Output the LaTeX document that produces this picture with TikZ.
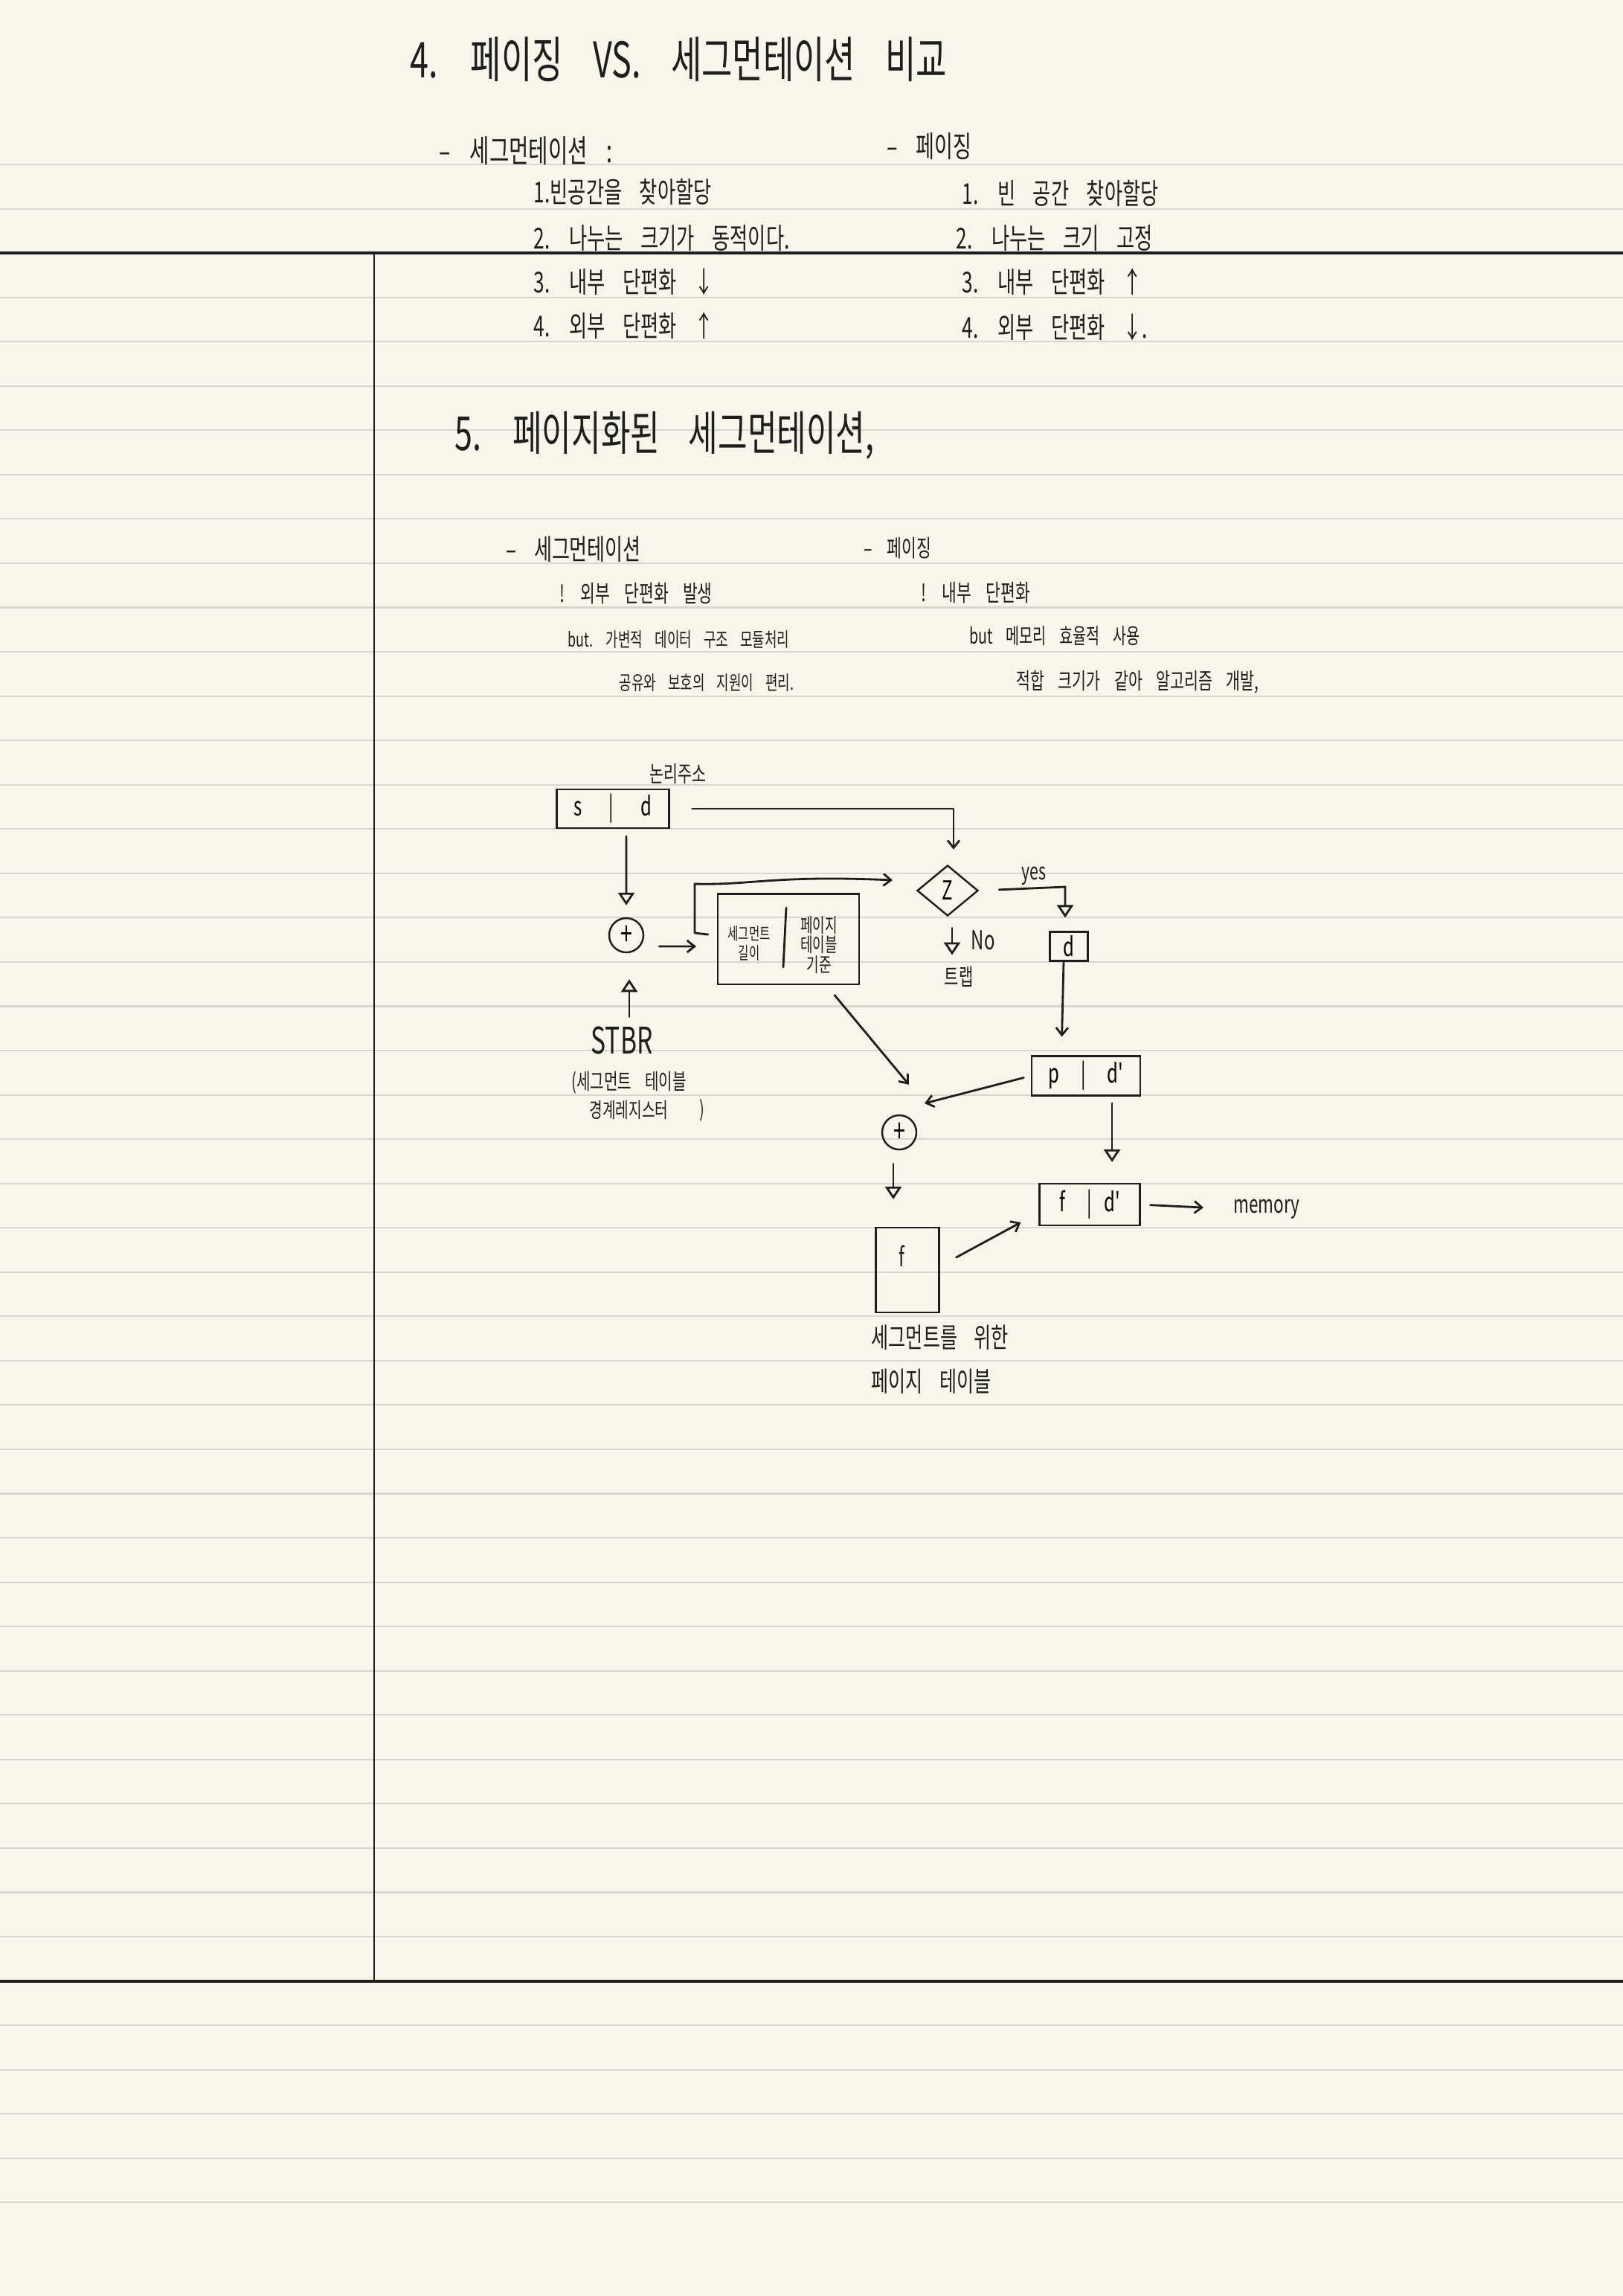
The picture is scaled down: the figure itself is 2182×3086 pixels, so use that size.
\documentclass[tikz,border=0pt]{standalone}
\usepackage{fontspec}
\usepackage{tikz}
\usetikzlibrary{arrows.meta, shapes.geometric}
\newfontfamily\hand[FakeStretch=0.68,WordSpace=4]{Noto Sans CJK KR}
\newcommand\hsz[1]{\hand\fontsize{#1}{#1}\selectfont}
\definecolor{paper}{RGB}{248,246,234}
\definecolor{ruleline}{RGB}{214,213,207}
\definecolor{ink}{RGB}{30,30,30}

\begin{document}
\begin{tikzpicture}[x=0.01cm, y=-0.01cm,
    pen/.style={line width=0.8pt, ink, line cap=round, line join=round},
    tovee/.style={-{Straight Barb[length=1mm,width=1.6mm]}},
    totri/.style={-{Triangle[open,length=1.7mm,width=2.2mm]}},
    txt/.style={anchor=west, inner sep=0pt, text=ink},
    lbl/.style={inner sep=0pt, text=ink},
    box/.style={draw=ink, line width=0.6pt, inner sep=0pt},
    sum/.style={draw=ink, line width=0.7pt, circle, minimum size=4.6mm,
                inner sep=0pt, font=\hsz{12}}]
  \useasboundingbox (0,0) rectangle (2182,3086);
  \fill[paper] (0,0) rectangle (2182,3086);
  % note paper
  \foreach \k in {0,...,46}
    \draw[ruleline, line width=0.6pt] (0,{221+59.55*\k}) -- (2182,{221+59.55*\k});
  \draw[ink, line width=0.9pt] (0,340) -- (2182,340);
  \draw[ink, line width=0.9pt] (0,2663) -- (2182,2663);
  \draw[ink, line width=0.7pt] (503,340) -- (503,2663);

  % 4.
  \node[txt, font=\hsz{18.8}] (t4) at (551,80) {4. 페이징 VS. 세그먼테이션 비교};
  \node[txt, font=\hsz{12}] (segh) at (590,203) {– 세그먼테이션 :};
  \node[txt, font=\hsz{11}] (seg1) at (717,258) {1.빈공간을 찾아할당};
  \node[txt, font=\hsz{11}] (seg2) at (717,320) {2. 나누는 크기가 동적이다.};
  \node[txt, font=\hsz{11}] (seg3) at (717,379) {3. 내부 단편화 ↓};
  \node[txt, font=\hsz{11}] (seg4) at (717,438) {4. 외부 단편화 ↑};
  \node[txt, font=\hsz{11.3}] (pagh) at (1192,197) {– 페이징};
  \node[txt, font=\hsz{11}] (pag1) at (1293,260) {1. 빈 공간 찾아할당};
  \node[txt, font=\hsz{11}] (pag2) at (1285,320) {2. 나누는 크기 고정};
  \node[txt, font=\hsz{11}] (pag3) at (1293,379) {3. 내부 단편화 ↑};
  \node[txt, font=\hsz{11}] (pag4) at (1293,440) {4. 외부 단편화 ↓.};

  % 5.
  \node[txt, font=\hsz{18}] (t5) at (611,585) {5. 페이지화된 세그먼테이션,};
  \node[txt, font=\hsz{10.9}] (segh5) at (680,738) {– 세그먼테이션};
  \node[txt, font=\hsz{9}] (seg5a) at (752,798) {! 외부 단편화 발생};
  \node[txt, font=\hsz{7.5}] (seg5b) at (763,860) {but. 가변적 데이터 구조 모듈처리};
  \node[txt, font=\hsz{7.5}] (seg5c) at (832,918) {공유와 보호의 지원이 편리.};
  \node[txt, font=\hsz{9}] (pagh5) at (1161,737) {– 페이징};
  \node[txt, font=\hsz{9}] (pag5a) at (1238,797) {! 내부 단편화};
  \node[txt, font=\hsz{8.2}] (pag5b) at (1303,855) {but 메모리 효율적 사용};
  \node[txt, font=\hsz{8.6}] (pag5c) at (1366,917) {적합 크기가 같아 알고리즘 개발,};

  % diagram
  \node[txt, font=\hsz{8.6}] (lad) at (873,1040) {논리주소};
  \node[box, minimum width=15.1mm, minimum height=5.2mm, font=\hsz{10}]
    (sd) at (824,1087) {s\hspace{3.6mm}|\hspace{3.6mm}d};
  \node[box, minimum width=19mm, minimum height=12.1mm] (seg) at (1060,1262) {};
  \node[lbl, align=center, font=\hsz{6.5}] (seglen) at (1007,1268) {세그먼트\\[1pt]길이};
  \node[lbl, align=center, font=\hsz{7.5}] (segpt) at (1101,1270) {페이지\\테이블\\기준};
  \draw[pen] (1057,1220) -- (1053,1300);
  \node[draw=ink, line width=0.7pt, diamond, minimum width=8.2mm, minimum height=6.8mm,
        inner sep=0pt, font=\hsz{10}] (zc) at (1274,1197) {Z};
  \node[box, minimum width=5.1mm, minimum height=3.9mm, font=\hsz{10}] (db) at (1437,1272) {d};
  \node[box, minimum width=14.6mm, minimum height=5.3mm, font=\hsz{10}]
    (pd) at (1460,1446) {p\hspace{2.9mm}|\hspace{2.9mm}d'};
  \node[box, minimum width=13.5mm, minimum height=5.6mm, font=\hsz{10}]
    (fd) at (1465,1619) {f\hspace{3mm}|\hspace{1.6mm}d'};
  \node[box, minimum width=8.5mm, minimum height=11.4mm] (fb) at (1220,1707) {};
  \node[lbl, font=\hsz{10}] (fbf) at (1212,1688) {f};
  \node[sum] (p1) at (842,1257) {+};
  \node[sum] (p2) at (1209,1522) {+};
  \node[lbl, font=\hsz{14}] (stbr) at (836,1398) {STBR};
  \node[txt, font=\hsz{8.4}] (stbr1) at (768,1455) {(세그먼트 테이블};
  \node[txt, font=\hsz{8}] (stbr2) at (792,1492) {경계레지스터};
  \node[txt, font=\hsz{8.4}] (stbr3) at (940,1492) {)};
  \node[lbl, font=\hsz{8.9}] (yes) at (1390,1177) {yes};
  \node[txt, font=\hsz{10}] (no) at (1305,1264) {No};
  \node[lbl, font=\hsz{8.8}] (trap) at (1289,1313) {트랩};
  \node[txt, font=\hsz{9.4}] (mem) at (1658,1625) {memory};
  \node[txt, font=\hsz{10.5}] (pt1) at (1171,1798) {세그먼트를 위한};
  \node[txt, font=\hsz{10.5}] (pt2) at (1171,1857) {페이지 테이블};

  \coordinate (brk) at (934,1254);
  \coordinate (brktop) at (934,1188);
  \coordinate (zin) at (1200,1183);
  \coordinate (bin) at (936,1272);
  \coordinate (ycorner) at (1432,1192);
  \coordinate (p2in) at (1243,1483);

  \draw[pen, tovee, shorten <=3mm, shorten >=2mm] (sd.east) -| ([xshift=0.8mm]zc.north);
  \draw[pen, totri, shorten <=1mm, shorten >=1.6mm] ([xshift=1.8mm]sd.south) -- (p1.north);
  \draw[pen, totri, shorten <=1.2mm, shorten >=3.5mm]
    ([xshift=0.4mm]p1.south |- stbr.north) -- ([xshift=0.4mm]p1.south);
  \draw[pen, tovee, shorten <=2mm] ([yshift=-1.5mm]p1.east) -- (bin);
  \draw[pen, tovee] ([xshift=-1.2mm,yshift=0.6mm]seg.west) -- (brk) -- (brktop)
    .. controls (1010,1190) and (1040,1176) .. (zin);
  \draw[pen, totri, shorten <=2.7mm, shorten >=1.8mm] (zc.east) -- (ycorner) -- (ycorner |- db.north);
  \draw[pen, totri, shorten <=1.5mm, shorten >=1.5mm]
    ([xshift=0.6mm]zc.south) -- ([xshift=0.6mm]zc.south |- trap.north);
  \draw[pen, tovee, shorten >=2.5mm] ([xshift=-0.7mm]db.south) -- ([xshift=-1mm]db.south |- pd.north);
  \draw[pen, tovee, shorten <=1mm] (pd.west) -- (p2in);
  \draw[pen, tovee] ([xshift=6.2mm,yshift=-1.4mm]seg.south) -- ([xshift=1.3mm,yshift=4mm]p2.north);
  \draw[pen, totri, shorten <=1.8mm, shorten >=3.7mm]
    ([xshift=-0.8mm]p2.south) -- ([xshift=-0.8mm]p2.south |- fb.north);
  \draw[pen, totri, shorten <=0.9mm, shorten >=2.8mm]
    ([xshift=3.5mm]pd.south) -- ([xshift=3.5mm]pd.south |- fd.north);
  \draw[pen, tovee] ([xshift=2.2mm,yshift=1.7mm]fb.east) -- ([xshift=-2.4mm,yshift=-2.4mm]fd.west);
  \draw[pen, tovee, shorten <=1.3mm, shorten >=4mm] (fd.east) -- (mem.west);
\end{tikzpicture}
\end{document}
